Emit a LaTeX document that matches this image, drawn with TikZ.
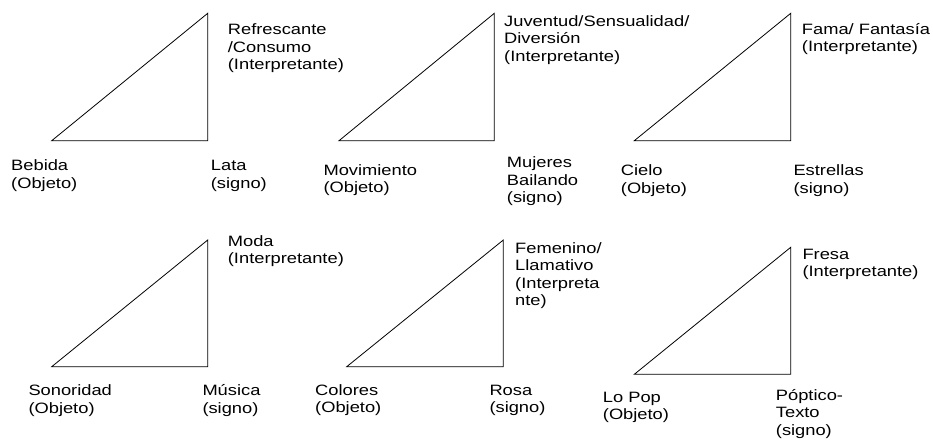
\documentclass[tikz,border=0pt]{standalone}
\usepackage{fontspec}
\setmainfont{Liberation Sans}[FakeStretch=1.22]
\newcommand{\mylbl}[1]{\begin{tabular}[t]{@{}l@{}}#1\end{tabular}}
\begin{document}
\begin{tikzpicture}[x=1pt,y=-1pt,
  lab/.style={anchor=base west, inner sep=0pt, font=\fontsize{15}{17.5}\selectfont},
  tri/.style={draw=black, line width=0.8pt, line join=miter}]
\useasboundingbox (0,0) rectangle (933,440);
% triangle corners
\coordinate (O1) at (51.7,140.7);  \coordinate (S1) at (207.7,140.7); \coordinate (I1) at (207.7,13.3);
\coordinate (O2) at (339,140.7);   \coordinate (S2) at (494.3,140.7); \coordinate (I2) at (494.3,13.3);
\coordinate (O3) at (634.3,140.7); \coordinate (S3) at (790.7,140.7); \coordinate (I3) at (790.7,13.3);
\coordinate (O4) at (51.7,366.7);  \coordinate (S4) at (207.7,366.7); \coordinate (I4) at (207.7,240);
\coordinate (O5) at (346.7,366.7); \coordinate (S5) at (503.3,366.7); \coordinate (I5) at (503.3,240);
\coordinate (O6) at (634.3,374.3); \coordinate (S6) at (790.7,374.3); \coordinate (I6) at (790.7,247.3);
\foreach \i in {1,...,6} {\draw[tri] (O\i) -- (S\i) -- (I\i) -- cycle;}
% labels
\node[lab] (i1) at (227.7,34.5) {\mylbl{Refrescante\\/Consumo\\(Interpretante)}};
\node[lab] (o1) at (11,170.7) {\mylbl{Bebida\\(Objeto)}};
\node[lab] (s1) at (210.7,170.7) {\mylbl{Lata\\(signo)}};
\node[lab] (i2) at (504,26) {\mylbl{Juventud/Sensualidad/\\Diversión\\(Interpretante)}};
\node[lab] (o2) at (323.3,175) {\mylbl{Movimiento\\(Objeto)}};
\node[lab] (s2) at (506.7,167.7) {\mylbl{Mujeres\\Bailando\\(signo)}};
\node[lab] (i3) at (801.7,34.3) {\mylbl{Fama/ Fantasía\\(Interpretante)}};
\node[lab] (o3) at (620.7,175.7) {\mylbl{Cielo\\(Objeto)}};
\node[lab] (s3) at (793.3,175.7) {\mylbl{Estrellas\\(signo)}};
\node[lab] (i4) at (227.7,246) {\mylbl{Moda\\(Interpretante)}};
\node[lab] (o4) at (28.3,395.7) {\mylbl{Sonoridad\\(Objeto)}};
\node[lab] (s4) at (202.3,395.7) {\mylbl{Música\\(signo)}};
\node[lab] (i5) at (515,253.3) {\mylbl{Femenino/\\Llamativo\\(Interpreta\\nte)}};
\node[lab] (o5) at (315,395) {\mylbl{Colores\\(Objeto)}};
\node[lab] (s5) at (489.3,395) {\mylbl{Rosa\\(signo)}};
\node[lab] (i6) at (802.3,259.3) {\mylbl{Fresa\\(Interpretante)}};
\node[lab] (o6) at (602.7,402.3) {\mylbl{Lo Pop\\(Objeto)}};
\node[lab] (s6) at (775.7,400) {\mylbl{Póptico-\\Texto\\(signo)}};
\end{tikzpicture}
\end{document}
